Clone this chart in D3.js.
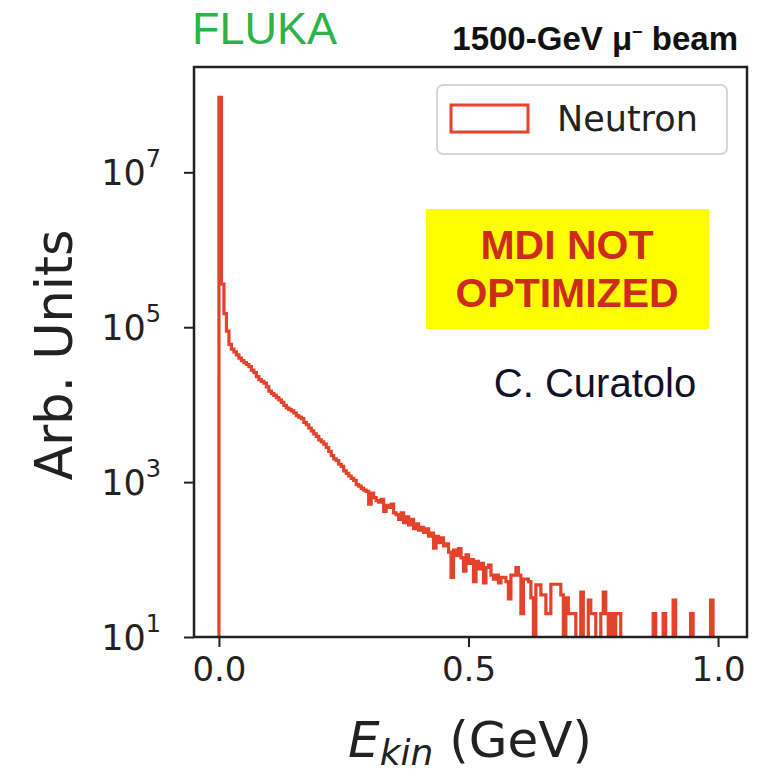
<!DOCTYPE html>
<html>
<head>
<meta charset="utf-8">
<script src="https://cdn.jsdelivr.net/npm/d3@7"></script>
<style>
  body { margin: 0; background: #fff; }
</style>
</head>
<body>
<div id="chart"></div>
<script>
// histogram of neutron kinetic energy, bins of 0.005 GeV starting at 0
const binStart = 0;
const binWidth = 0.005;
const counts = [
  9.3e7, 3.6e5, 1.5e5, 89000, 60000, 52000, 48000, 44000, 40000, 37000,
  35000, 33000, 31000, 28000, 26000, 23000, 21000, 20000, 19000, 17000,
  15000, 14000, 13200, 12300, 11500, 10700, 9800, 9100, 8700, 8300,
  7800, 7200, 6900, 6600, 5900, 5500, 5000, 4600, 4200, 3900,
  3500, 3300, 3100, 2800, 2500, 2200, 2000, 1900, 1700, 1600,
  1400, 1300, 1200, 1120, 1050, 930, 890, 830, 790, 760,
  520, 720, 630, 575, 550, 600, 420, 500, 470, 520,
  400, 380, 330, 400, 300, 355, 280, 330, 250, 290,
  240, 260, 225, 250, 200, 220, 140, 200, 165, 190,
  150, 160, 125, 59, 132, 112, 138, 105, 71, 115,
  89, 100, 52, 95, 76, 89, 50, 79, 85, 63,
  56, 63, 50, 59, 59, 52, 31, 63, 63, 79,
  63, 20, 56, 56, 52, 32, 0, 47, 47, 35,
  35, 20, 20, 48, 48, 48, 48, 35, 0, 32,
  20, 20, 20, 0, 0, 38, 0, 0, 30, 20,
  20, 0, 0, 20, 38, 20, 0, 20, 0, 20,
  20, 0, 0, 0, 0, 0, 0, 0, 0, 0,
  0, 0, 0, 0, 20, 0, 0, 0, 20, 0,
  0, 0, 30, 0, 0, 0, 0, 0, 0, 20,
  0, 0, 0, 0, 0, 0, 0, 30, 0, 0
];
const xTicks = [0.0, 0.5, 1.0];
const yTicks = [1e1, 1e3, 1e5, 1e7];
const yTickExp = ["1", "3", "5", "7"];
const seriesName = "Neutron";

const W = 761, H = 774;
const plot = {left: 194, right: 747, top: 67, bottom: 637};
const red = "#e2432a";

const svg = d3.select("#chart")
  .append("svg")
    .attr("width", W)
    .attr("height", H);

// scales
const x = d3.scaleLinear()
  .domain([-0.05, 1.058])
  .range([plot.left, plot.right]);

const y = d3.scaleLog()
  .domain([10, Math.pow(10, 8.36)])
  .range([plot.bottom, plot.top]);

svg.append("clipPath")
    .attr("id", "clip")
  .append("rect")
    .attr("x", plot.left)
    .attr("y", plot.top)
    .attr("width", plot.right - plot.left)
    .attr("height", plot.bottom - plot.top);

// ---------------------------//
//       HISTOGRAM STEP       //
// ---------------------------//
const yv = v => v > 0 ? y(v) : plot.bottom + 20;
const pts = [[x(binStart), plot.bottom + 20]];
counts.forEach((c, i) => {
  const e0 = binStart + i * binWidth, e1 = e0 + binWidth;
  pts.push([x(e0), yv(c)]);
  pts.push([x(e1), yv(c)]);
});
pts.push([x(binStart + counts.length * binWidth), plot.bottom + 20]);

svg.append("path")
  .attr("clip-path", "url(#clip)")
  .attr("d", d3.line()(pts))
  .attr("fill", "none")
  .attr("stroke", red)
  .attr("stroke-width", 3.2)
  .attr("stroke-linejoin", "miter");

// ---------------------------//
//       AXES                 //
// ---------------------------//
const xAxis = svg.append("g")
  .attr("transform", `translate(0,${plot.bottom})`)
  .call(d3.axisBottom(x).tickValues(xTicks).tickFormat(d3.format(".1f")).tickSize(10).tickPadding(10));
xAxis.select(".domain").remove();
xAxis.selectAll(".tick line").attr("stroke", "#222").attr("stroke-width", 2);
xAxis.selectAll(".tick text")
  .attr("font-family", "DejaVu Sans")
  .attr("font-size", 34)
  .attr("fill", "#222");

const yAxis = svg.append("g")
  .attr("transform", `translate(${plot.left},0)`)
  .call(d3.axisLeft(y).tickValues(yTicks).tickFormat("").tickSize(10));
yAxis.select(".domain").remove();
yAxis.selectAll(".tick line").attr("stroke", "#222").attr("stroke-width", 2);
yAxis.selectAll(".tick").each(function(d, i) {
  const t = d3.select(this).append("text")
    .attr("x", -33)
    .attr("dy", "0.35em")
    .attr("text-anchor", "end")
    .attr("font-family", "DejaVu Sans")
    .attr("font-size", 35)
    .attr("fill", "#222");
  t.append("tspan").text("10");
  t.append("tspan")
    .attr("font-size", 24)
    .attr("dy", "-0.75em")
    .text(yTickExp[i]);
});

// spines
svg.append("rect")
  .attr("x", plot.left)
  .attr("y", plot.top)
  .attr("width", plot.right - plot.left)
  .attr("height", plot.bottom - plot.top)
  .attr("fill", "none")
  .attr("stroke", "#222")
  .attr("stroke-width", 2.5);

// axis labels
const xl = svg.append("text")
  .attr("x", 470)
  .attr("y", 757)
  .attr("text-anchor", "middle")
  .attr("font-family", "DejaVu Sans")
  .attr("font-size", 50)
  .attr("fill", "#222");
xl.append("tspan").attr("font-style", "italic").text("E");
xl.append("tspan").attr("font-style", "italic").attr("font-size", 36).attr("dy", 8).text("kin");
xl.append("tspan").attr("dy", -8).text(" (GeV)");

svg.append("text")
  .attr("transform", "translate(72,355) rotate(-90)")
  .attr("text-anchor", "middle")
  .attr("font-family", "DejaVu Sans")
  .attr("font-size", 51)
  .attr("fill", "#222")
  .text("Arb. Units");

// ---------------------------//
//       LEGEND               //
// ---------------------------//
svg.append("rect")
  .attr("x", 437).attr("y", 85)
  .attr("width", 290).attr("height", 69)
  .attr("rx", 6)
  .attr("fill", "#fff")
  .attr("stroke", "#d6d6d6")
  .attr("stroke-width", 2);
svg.append("rect")
  .attr("x", 451).attr("y", 105)
  .attr("width", 77).attr("height", 27)
  .attr("fill", "none")
  .attr("stroke", red)
  .attr("stroke-width", 3);
svg.append("text")
  .attr("x", 557).attr("y", 119)
  .attr("dy", "0.35em")
  .attr("font-family", "DejaVu Sans")
  .attr("font-size", 35)
  .attr("fill", "#222")
  .text(seriesName);

// ---------------------------//
//       ANNOTATIONS          //
// ---------------------------//
svg.append("text")
  .attr("x", 192).attr("y", 44)
  .attr("font-family", "Liberation Sans")
  .attr("font-size", 45)
  .attr("fill", "#2cb34a")
  .text("FLUKA");

const beam = svg.append("text")
  .attr("x", 738).attr("y", 50)
  .attr("text-anchor", "end")
  .attr("font-family", "Liberation Sans")
  .attr("font-weight", "bold")
  .attr("font-size", 33)
  .attr("fill", "#111");
beam.append("tspan").text("1500-GeV μ");
beam.append("tspan").attr("font-size", 18).attr("dy", -12).text("−");
beam.append("tspan").attr("dy", 12).text(" beam");

svg.append("rect")
  .attr("x", 426).attr("y", 209)
  .attr("width", 283).attr("height", 120)
  .attr("fill", "#ffff00");
svg.append("text")
  .attr("x", 567).attr("y", 259)
  .attr("text-anchor", "middle")
  .attr("font-family", "Liberation Sans")
  .attr("font-weight", "bold")
  .attr("font-size", 41)
  .attr("fill", "#cf2a1e")
  .text("MDI NOT");
svg.append("text")
  .attr("x", 567).attr("y", 307)
  .attr("text-anchor", "middle")
  .attr("font-family", "Liberation Sans")
  .attr("font-weight", "bold")
  .attr("font-size", 41)
  .attr("fill", "#cf2a1e")
  .text("OPTIMIZED");

svg.append("text")
  .attr("x", 595).attr("y", 397)
  .attr("text-anchor", "middle")
  .attr("font-family", "Liberation Sans")
  .attr("font-size", 40)
  .attr("fill", "#111128")
  .text("C. Curatolo");
</script>
</body>
</html>
